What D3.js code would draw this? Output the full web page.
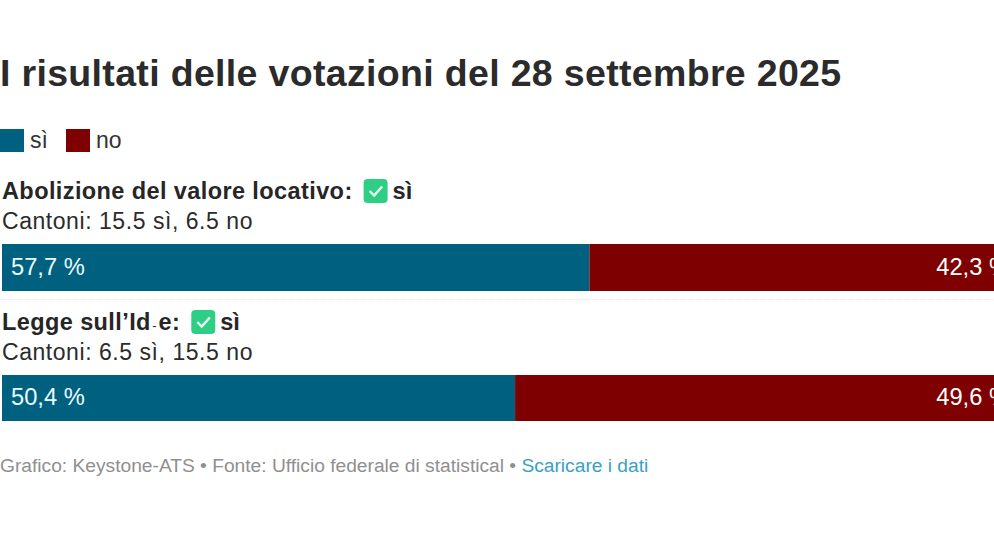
<!DOCTYPE html>
<html>
<head>
<meta charset="utf-8">
<script src="https://cdn.jsdelivr.net/npm/d3@7"></script>
<style>
  html, body { margin: 0; padding: 0; background: #fff; overflow: hidden; }
  svg { display: block; font-family: "Liberation Sans", Arial, sans-serif; }
</style>
</head>
<body>
<svg id="chart"></svg>
<script>
const titleText = "I risultati delle votazioni del 28 settembre 2025";
const seriesNames = ["sì", "no"];
const seriesColors = ["#00607f", "#7f0000"];
const votes = ["Abolizione del valore locativo:", "Legge sull’Id-e:"];
const outcomes = ["sì", "sì"];
const cantons = ["Cantoni: 15.5 sì, 6.5 no", "Cantoni: 6.5 sì, 15.5 no"];
const yesShare = [57.7, 50.4];
const noShare = [42.3, 49.6];
const sourceText = "Grafico: Keystone-ATS • Fonte: Ufficio federale di statistical • ";
const linkText = "Scaricare i dati";

const width = 994;
const height = 559;
const fmt = (v) => String(v.toFixed(1)).replace(".", ",") + " %";

const svg = d3.select("#chart").attr("width", width).attr("height", height);

// bars run past the right edge of the frame, like in the embed
const x = d3.scaleLinear().domain([0, 100]).range([2, 1020]);
const rowTop = [178, 309]; // top of each block
const barY = [244, 375];
const barH = [47, 46];

svg.append("text")
  .attr("x", 0).attr("y", 86)
  .attr("font-size", 37.5).attr("font-weight", "bold")
  .attr("letter-spacing", 0.33).attr("fill", "#2b2b2b")
  .text(titleText);

// legend
const legendX = [0, 66];
const legend = svg.selectAll(".legend").data(seriesNames).join("g")
  .attr("class", "legend")
  .attr("transform", (d, i) => `translate(${legendX[i]},129)`);
legend.append("rect")
  .attr("width", 24).attr("height", 23)
  .attr("fill", (d, i) => seriesColors[i]);
legend.append("text")
  .attr("x", 30).attr("y", 19)
  .attr("font-size", 23).attr("fill", "#333")
  .text((d) => d);

// one block per vote
const rows = svg.selectAll(".row").data(votes).join("g").attr("class", "row");

rows.each(function (vote, i) {
  const g = d3.select(this);

  const head = g.append("text")
    .attr("x", 2).attr("y", rowTop[i] + 21)
    .attr("font-size", 23.5).attr("font-weight", "bold")
    .attr("letter-spacing", 0.4).attr("fill", "#262626");
  if (vote.includes("Id-e")) {
    head.append("tspan").text("Legge sull’Id");
    head.append("tspan").attr("font-weight", "normal").attr("font-size", 13).attr("dx", 1.5).text("-");
    head.append("tspan").attr("dx", 1.5).text("e:");
  } else {
    head.text(vote);
  }
  const headEnd = head.node().getBBox().x + head.node().getBBox().width;

  // green check mark next to the outcome
  const iconX = headEnd + 11;
  const iconY = rowTop[i] + 1;
  g.append("rect")
    .attr("x", iconX).attr("y", iconY)
    .attr("width", 24).attr("height", 24).attr("rx", 4)
    .attr("fill", "#2ecf85");
  g.append("path")
    .attr("d", d3.line()([[iconX + 6, iconY + 12], [iconX + 10.5, iconY + 16.5], [iconX + 18.5, iconY + 7.5]]))
    .attr("fill", "none").attr("stroke", "#e8fff3").attr("stroke-width", 2.4);
  g.append("text")
    .attr("x", iconX + 29).attr("y", rowTop[i] + 21)
    .attr("font-size", 23.5).attr("font-weight", "bold").attr("fill", "#262626")
    .text(outcomes[i]);

  g.append("text")
    .attr("x", 2).attr("y", rowTop[i] + 51)
    .attr("font-size", 23).attr("letter-spacing", 0.55).attr("fill", "#2b2b2b")
    .text(cantons[i]);

  // stacked bar
  g.append("rect")
    .attr("x", x(0)).attr("y", barY[i])
    .attr("width", x(yesShare[i]) - x(0)).attr("height", barH[i])
    .attr("fill", seriesColors[0]);
  g.append("rect")
    .attr("x", x(yesShare[i])).attr("y", barY[i])
    .attr("width", x(100) - x(yesShare[i])).attr("height", barH[i])
    .attr("fill", seriesColors[1]);

  g.append("text")
    .attr("x", x(0) + 9).attr("y", barY[i] + barH[i] / 2 + 7)
    .attr("font-size", 23.7).attr("fill", "#eafcff")
    .text(fmt(yesShare[i]));
  g.append("text")
    .attr("x", x(100) - 10).attr("y", barY[i] + barH[i] / 2 + 7)
    .attr("text-anchor", "end")
    .attr("font-size", 23.7).attr("fill", "#fff")
    .text(fmt(noShare[i]));
});

// dotted separator between the two votes
svg.append("line")
  .attr("x1", 0).attr("x2", width).attr("y1", 299.5).attr("y2", 299.5)
  .attr("stroke", "#dfe6e6").attr("stroke-dasharray", "1 1");

const foot = svg.append("text")
  .attr("x", 0).attr("y", 472)
  .attr("font-size", 19.2).attr("fill", "#8f8f8f");
foot.append("tspan").text(sourceText);
foot.append("tspan").attr("fill", "#3a9fc4").text(linkText);
</script>
</body>
</html>
